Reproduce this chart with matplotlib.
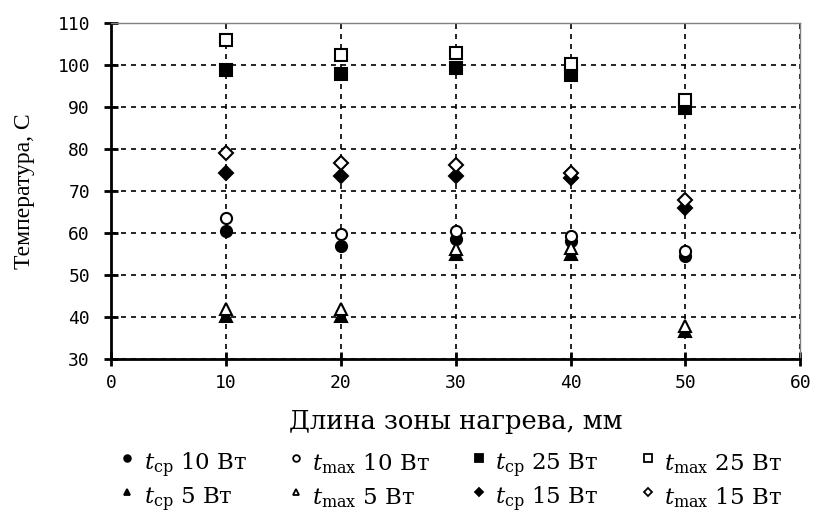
import numpy as np
import matplotlib.pyplot as plt
from matplotlib.lines import Line2D

length = [10, 20, 30, 40, 50]

t_cp_10 = [60.6, 57.0, 58.5, 58.2, 54.6]
t_max_10 = [63.5, 59.8, 60.6, 59.4, 55.8]
t_cp_25 = [98.8, 97.8, 99.2, 97.6, 89.7]
t_max_25 = [106.0, 102.4, 102.8, 100.2, 91.6]
t_cp_5 = [40.3, 40.3, 55.0, 55.0, 36.8]
t_max_5 = [42.0, 42.0, 56.3, 56.5, 38.0]
t_cp_15 = [74.2, 73.5, 73.5, 73.0, 66.0]
t_max_15 = [79.0, 76.6, 76.1, 74.2, 67.8]

plt.rcParams['mathtext.fontset'] = 'dejavuserif'

fig = plt.figure(figsize=(8.15, 5.19), dpi=100)
ax = fig.add_axes([0.136, 0.308, 0.846, 0.648])

series = [
    (t_cp_10, 'o', 'black', 8, r'$t_{\mathrm{ср}}$ 10 Вт'),
    (t_max_10, 'o', 'white', 8, r'$t_{\mathrm{max}}$ 10 Вт'),
    (t_cp_25, 's', 'black', 9, r'$t_{\mathrm{ср}}$ 25 Вт'),
    (t_max_25, 's', 'white', 9, r'$t_{\mathrm{max}}$ 25 Вт'),
    (t_cp_5, '^', 'black', 8, r'$t_{\mathrm{ср}}$ 5 Вт'),
    (t_max_5, '^', 'white', 8, r'$t_{\mathrm{max}}$ 5 Вт'),
    (t_cp_15, 'D', 'black', 7, r'$t_{\mathrm{ср}}$ 15 Вт'),
    (t_max_15, 'D', 'white', 7, r'$t_{\mathrm{max}}$ 15 Вт'),
]

handles = []
for vals, mk, fc, ms, lab in series:
    ax.plot(length, vals, linestyle='none', marker=mk, markersize=ms,
            markerfacecolor=fc, markeredgecolor='black', markeredgewidth=1.5,
            zorder=3)
    handles.append(Line2D([], [], linestyle='none', marker=mk, markersize=ms * 0.6,
                          markerfacecolor=fc, markeredgecolor='black',
                          markeredgewidth=1.3, label=lab))

ax.set_xlim(0, 60)
ax.set_ylim(30, 110)
ax.set_xticks(np.arange(0, 61, 10))
ax.set_yticks(np.arange(30, 111, 10))
ax.grid(True, color='black', linestyle=(0, (3, 3)), linewidth=1.2)
ax.set_axisbelow(True)

ax.spines['left'].set_linewidth(2)
ax.spines['bottom'].set_linewidth(2)
for s in ['top', 'right']:
    ax.spines[s].set_color('#808080')
    ax.spines[s].set_linewidth(1)
ax.tick_params(direction='inout', length=10, width=2, labelsize=13,
               colors='black')
ax.tick_params(axis='x', pad=6)
ax.tick_params(axis='y', pad=10)
for lbl in ax.get_xticklabels() + ax.get_yticklabels():
    lbl.set_family('DejaVu Sans Mono')

ax.set_xlabel('Длина зоны нагрева, мм', family='DejaVu Serif', fontsize=18.5,
              labelpad=12)
ax.set_ylabel('Температура, С', family='Liberation Serif', fontsize=17,
              labelpad=16)

# legend: tall handle boxes so both rows line up across columns
order = [0, 4, 1, 5, 2, 6, 3, 7]
fig.legend([handles[i] for i in order], [handles[i].get_label() for i in order],
           ncol=4, loc='lower center', bbox_to_anchor=(0.552, -0.03),
           frameon=False, prop={'family': 'DejaVu Serif', 'size': 16.5},
           handletextpad=0.3, columnspacing=1.75, labelspacing=0.0,
           handlelength=0.8, handleheight=1.9)

fig.savefig('out.png', dpi=100)
